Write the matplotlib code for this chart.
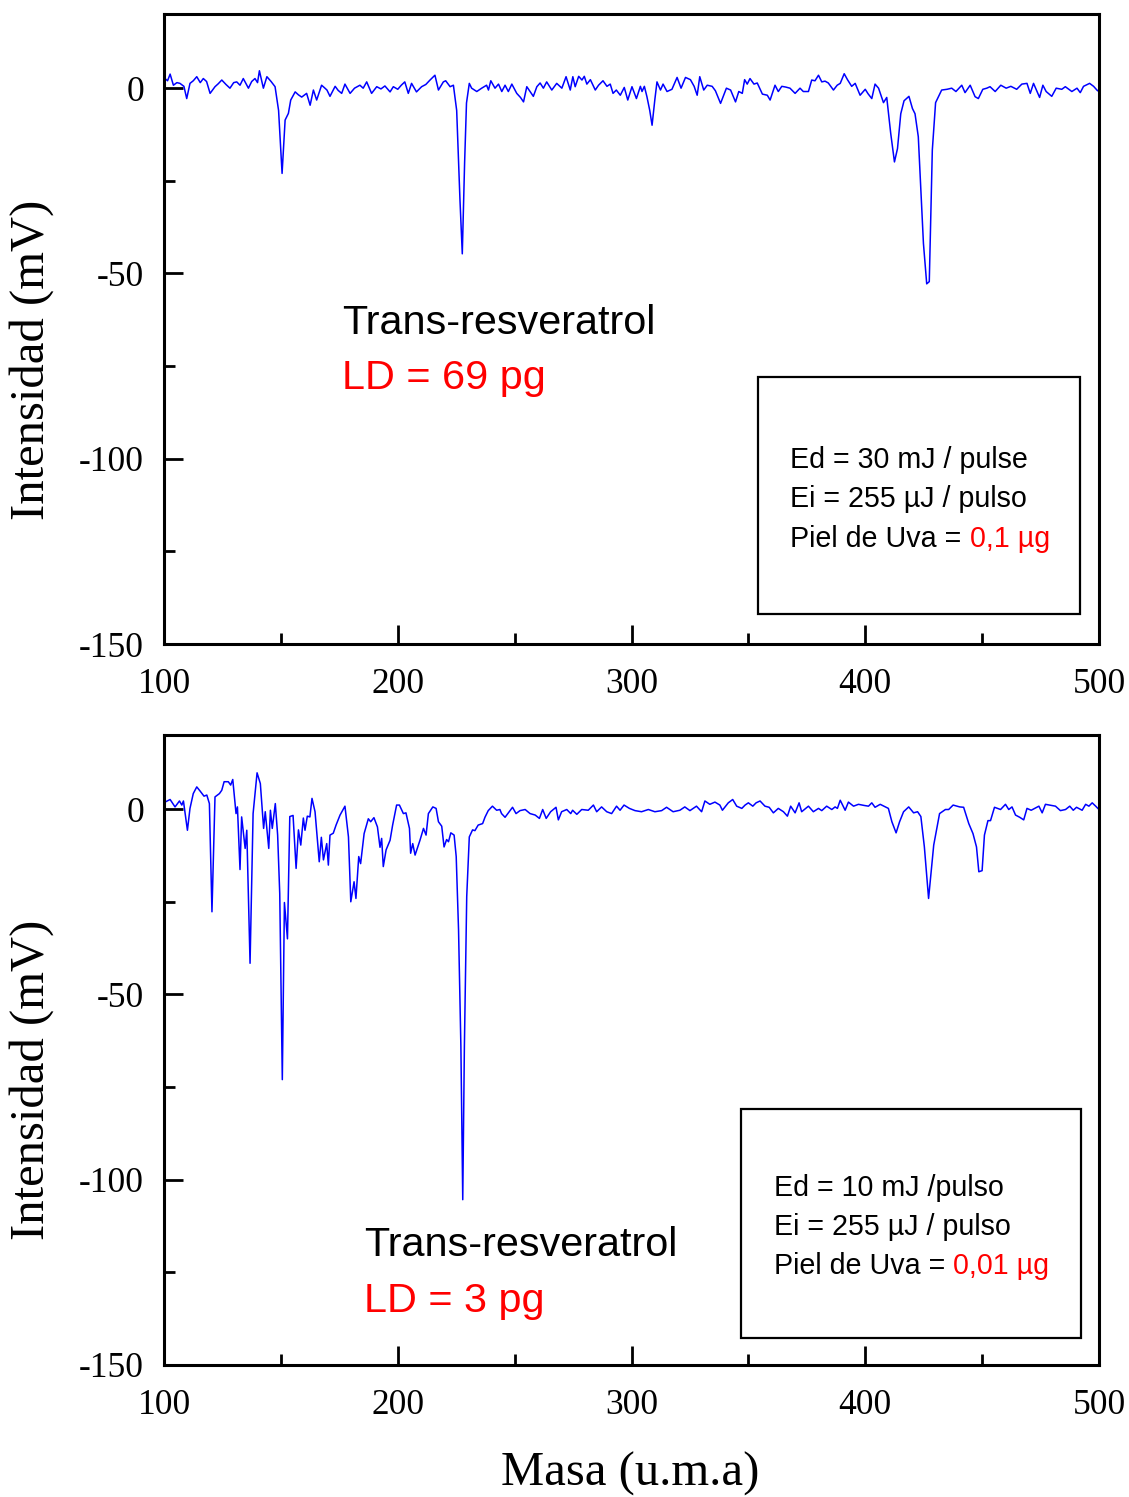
import matplotlib
matplotlib.use("Agg")
import matplotlib.pyplot as plt
from matplotlib.patches import Rectangle
from matplotlib.ticker import MultipleLocator

# Mass spectrum, 30 mJ desorption energy: (mass in u.m.a, intensity in mV)
top_trace = [
    (100.0, 1.5), (100.4, 2.6), (101.5, 2.0), (102.6, 3.8), (104.0, 0.8), (105.5, 1.5),
    (106.8, 1.3), (108.5, 0.5), (109.7, -2.8), (111.1, 1.3), (112.5, 2.0), (114.0, 3.1),
    (115.5, 1.5), (116.8, 2.6), (118.2, 1.8), (119.7, -1.4), (121.8, 0.4), (123.2, 1.2),
    (124.7, 2.2), (126.5, 1.0), (128.2, 0.0), (129.8, 1.5), (131.1, 1.7), (132.5, 0.8),
    (133.9, 2.6), (136.1, 0.0), (137.5, 1.8), (138.9, 2.6), (140.0, 1.5), (140.8, 4.7),
    (142.5, 0.0), (144.0, 3.1), (145.8, 1.8), (147.5, 0.4), (149.0, -6.0), (150.5, -23.0),
    (151.8, -8.6), (153.2, -6.8), (154.2, -3.2), (156.1, -1.0), (157.5, -1.8), (158.9, -2.4),
    (161.0, -1.4), (162.5, -4.6), (163.9, -0.5), (165.3, -3.2), (167.4, 0.8), (168.5, 0.2),
    (169.7, -0.5), (171.0, -2.2), (173.2, 0.5), (174.5, -0.6), (176.0, -1.4), (177.4, 1.1),
    (179.6, -1.4), (181.5, 0.0), (183.8, 0.8), (185.2, 0.0), (186.7, 1.7), (188.8, -1.4),
    (191.0, 0.4), (192.8, -0.2), (194.5, 0.6), (196.7, -1.0), (198.1, 0.4), (200.0, -0.3),
    (201.5, 0.8), (203.0, 1.7), (204.5, -1.4), (205.9, 1.3), (208.0, -1.0), (210.2, 0.4),
    (212.0, 1.0), (213.8, 2.2), (215.9, 3.5), (217.4, -0.5), (219.5, 1.7), (220.5, 2.0),
    (222.4, 0.4), (223.8, 0.8), (225.2, -6.0), (226.6, -30.0), (227.6, -44.7), (228.6, -20.0),
    (229.4, -4.0), (230.6, 1.3), (231.6, 0.0), (233.8, -0.9), (235.9, 0.0), (238.0, 0.8),
    (238.8, -0.5), (239.8, 2.0), (241.6, 0.0), (243.1, 1.1), (244.5, -0.9), (245.9, 0.8),
    (247.3, -0.9), (248.8, 1.1), (250.9, -1.4), (252.5, -2.5), (253.8, -3.7), (255.2, 0.4),
    (256.5, -0.8), (258.0, -2.2), (259.5, 0.4), (260.9, 1.4), (262.3, 0.0), (263.7, 1.7),
    (265.9, -0.5), (268.0, 1.3), (270.2, 0.0), (272.0, 3.1), (273.8, -0.5), (274.9, 3.1),
    (275.9, 0.4), (277.4, 3.2), (278.8, 2.2), (279.8, 3.2), (280.9, 1.1), (282.4, 2.3),
    (284.5, -0.5), (285.9, 0.8), (287.8, 2.0), (289.5, 0.5), (290.9, 1.1), (292.1, -1.4),
    (293.5, -0.5), (295.2, -1.9), (296.9, 0.2), (298.4, -3.2), (300.2, 0.4), (302.1, -2.8),
    (303.8, 0.5), (304.5, -0.9), (305.5, 0.5), (306.6, -2.3), (307.8, -6.0), (308.8, -10.0),
    (310.0, -3.0), (310.9, 1.7), (312.4, -0.5), (313.5, 1.1), (315.2, -0.9), (317.3, -0.3),
    (319.5, 2.9), (321.2, 0.0), (323.1, 2.9), (325.2, 2.3), (326.8, 0.5), (328.1, -1.9),
    (329.2, 3.1), (330.9, -0.5), (332.4, 0.8), (334.5, 0.5), (335.9, -0.7), (338.1, -4.1),
    (340.6, 0.0), (342.4, -0.5), (344.5, -3.7), (345.9, -0.9), (347.4, -1.4), (348.4, 2.3),
    (349.5, 1.1), (350.7, 2.6), (352.4, 1.1), (353.8, 1.4), (356.0, -1.6), (358.1, -1.9),
    (359.3, -3.2), (361.4, 0.8), (362.8, -0.9), (364.3, 0.5), (366.0, 0.3), (367.8, 0.0),
    (370.0, -1.4), (372.1, 0.0), (373.5, -0.9), (375.7, -0.9), (377.1, 2.2), (378.5, 2.0),
    (380.0, 3.5), (381.4, 1.7), (382.8, 1.9), (384.2, 1.4), (386.4, -0.5), (388.0, 0.8),
    (389.3, 1.3), (391.0, 3.9), (392.4, 2.3), (394.2, 0.5), (395.7, 1.3), (397.8, -1.9),
    (400.0, -0.3), (401.2, -1.5), (402.8, -2.8), (404.2, 1.1), (405.7, 0.0), (407.8, -3.9),
    (409.2, -2.5), (410.9, -12.2), (412.5, -19.9), (413.8, -16.3), (415.2, -6.9), (416.6, -3.4),
    (418.7, -2.2), (420.2, -5.5), (421.3, -6.9), (422.7, -13.1), (424.9, -41.9), (426.3, -52.8),
    (427.4, -52.2), (428.7, -16.7), (430.1, -3.9), (432.7, -0.5), (435.0, -0.3), (437.0, 0.0),
    (438.8, -0.9), (441.3, 0.8), (442.7, -1.2), (444.9, 0.8), (447.0, -2.3), (448.4, -2.8),
    (450.3, -0.3), (452.0, 0.0), (453.4, 0.4), (455.6, -0.9), (458.0, 0.8), (460.3, 0.0),
    (462.3, 0.5), (464.8, -0.3), (467.0, 1.1), (469.2, 1.3), (470.6, -1.4), (472.0, 1.3),
    (474.6, -2.5), (476.0, 0.8), (477.4, -0.9), (479.8, -2.2), (481.7, 0.0), (484.1, -0.3),
    (485.6, 0.4), (488.4, -0.9), (490.6, 0.0), (492.0, -1.2), (493.4, 0.5), (496.0, 1.3),
    (497.7, 0.5), (499.4, -0.7), (500.0, -0.5),
]

# Mass spectrum, 10 mJ desorption energy: (mass in u.m.a, intensity in mV)
bottom_trace = [
    (100.0, 1.5), (100.4, 1.9), (102.6, 2.6), (104.7, 0.6), (106.6, 2.2), (107.6, 1.1),
    (108.3, 2.2), (110.0, -5.7), (111.1, 0.2), (112.5, 4.2), (114.0, 6.0), (115.4, 4.9),
    (117.1, 3.5), (118.3, 3.8), (119.4, 1.5), (120.5, -27.7), (121.8, 3.3), (123.7, 4.2),
    (124.7, 5.1), (125.7, 7.4), (127.5, 7.4), (128.5, 6.5), (129.4, 8.0), (130.8, -1.2),
    (131.4, 0.6), (132.5, -16.3), (133.2, -2.1), (134.7, -10.6), (135.4, -5.7), (136.8, -41.6),
    (138.1, -1.2), (139.8, 9.8), (141.2, 6.9), (142.6, -5.2), (143.3, -0.7), (144.8, -10.6),
    (145.5, -0.3), (146.3, -5.2), (147.6, 1.5), (148.6, -7.0), (149.5, -22.8), (150.6, -73.0),
    (151.5, -25.2), (152.8, -35.0), (153.8, -2.0), (155.2, -1.7), (156.5, -16.0), (157.5, -5.6),
    (158.5, -9.7), (159.6, -2.4), (160.3, -5.7), (161.3, -1.9), (162.4, -2.1), (163.3, 2.9),
    (164.6, -0.7), (166.4, -14.2), (167.3, -7.6), (168.2, -13.7), (169.6, -9.3), (170.3, -15.1),
    (171.0, -7.0), (172.4, -6.5), (173.6, -4.3), (175.3, -1.6), (177.4, 0.8), (178.9, -7.5),
    (179.9, -25.0), (181.3, -19.6), (182.1, -24.1), (183.3, -12.8), (184.1, -14.7), (185.6, -6.6),
    (187.4, -2.6), (188.4, -3.4), (189.8, -2.3), (191.3, -4.8), (192.4, -10.3), (193.1, -7.9),
    (193.8, -15.5), (195.0, -11.0), (196.7, -8.4), (197.8, -4.3), (199.5, 1.1), (200.7, 1.1),
    (202.4, -1.2), (203.5, -1.0), (205.0, -5.2), (205.5, -11.9), (206.4, -9.3), (207.4, -12.4),
    (209.5, -8.4), (211.0, -5.2), (212.1, -7.0), (213.1, -1.2), (215.0, 0.6), (216.4, 0.2),
    (217.4, -3.4), (218.8, -4.6), (219.8, -10.2), (220.9, -8.2), (221.7, -8.8), (222.7, -6.4),
    (224.1, -7.0), (225.0, -12.8), (226.0, -32.6), (227.0, -64.0), (227.8, -105.4), (228.5, -64.0),
    (229.5, -23.6), (230.6, -7.5), (232.0, -5.6), (233.0, -5.8), (234.4, -4.3), (236.3, -3.9),
    (237.3, -2.2), (238.7, -0.4), (240.5, 0.8), (242.3, -0.3), (243.7, -0.1), (244.4, -1.2),
    (245.9, -2.2), (247.3, -1.0), (249.1, 0.5), (250.6, -1.2), (252.3, -0.4), (254.5, -0.1),
    (256.6, -1.2), (258.8, -1.6), (260.6, -2.5), (262.0, -0.1), (263.5, -2.5), (265.4, -0.7),
    (267.7, 0.5), (268.7, -2.9), (270.1, -0.7), (272.3, -0.1), (274.0, -1.2), (274.8, -0.3),
    (276.6, -1.4), (278.7, -0.1), (281.5, -0.3), (283.7, 1.1), (285.1, -0.7), (287.2, 0.6),
    (289.4, -0.7), (291.5, -1.2), (293.6, 0.8), (295.1, -0.3), (296.8, 1.1), (299.1, 0.2),
    (301.5, -0.4), (304.3, -0.7), (307.2, -0.1), (310.0, -0.7), (312.9, -0.4), (315.0, 0.5),
    (317.8, -0.7), (320.7, -0.3), (322.8, 0.6), (325.0, -0.4), (327.8, 0.8), (330.0, -0.7),
    (331.4, 2.2), (333.5, 1.3), (335.7, 1.9), (337.8, 1.1), (338.9, -0.3), (341.4, 1.7),
    (343.3, 2.6), (345.0, 0.8), (347.2, 0.2), (348.6, 1.1), (350.0, 1.7), (351.9, 0.8),
    (353.3, 1.7), (355.0, 2.2), (357.1, 0.8), (358.9, 0.5), (360.7, -1.0), (362.8, 0.2),
    (365.0, -0.7), (366.7, -1.9), (368.1, 0.8), (370.0, -1.0), (371.7, 1.7), (372.8, -0.7),
    (375.7, 0.8), (377.8, -0.7), (380.0, 0.2), (381.4, -0.4), (383.5, 0.8), (385.7, -0.1),
    (387.1, 0.6), (388.1, 0.2), (389.3, 2.4), (391.4, -0.3), (392.8, 1.9), (395.0, 0.8),
    (397.1, 1.3), (399.5, 1.0), (401.4, 0.8), (402.8, 1.7), (404.2, 0.5), (406.4, 1.3),
    (409.9, 0.2), (411.4, -3.4), (413.2, -6.4), (414.7, -3.4), (416.4, -0.7), (418.6, 0.6),
    (420.7, -1.0), (422.4, -0.7), (423.8, -2.0), (425.3, -10.2), (427.1, -24.1), (429.3, -9.7),
    (431.8, -1.2), (434.3, -0.1), (435.7, -0.1), (437.6, 1.1), (440.4, 0.6), (442.1, 0.5),
    (444.3, -3.9), (446.1, -6.6), (447.6, -10.2), (448.6, -16.9), (450.0, -16.6), (451.0, -7.0),
    (452.5, -3.1), (453.6, -3.1), (455.3, 0.5), (457.9, -0.1), (460.0, 1.3), (461.4, -0.1),
    (462.8, 0.6), (464.3, -1.6), (466.1, -2.2), (467.8, -2.9), (469.2, 0.2), (471.0, -0.3),
    (474.3, 0.8), (475.7, -1.0), (477.1, 1.3), (481.4, 0.8), (483.5, -0.4), (485.7, -0.1),
    (487.5, 0.8), (489.0, -0.3), (490.4, 0.5), (492.8, -0.3), (494.3, 1.3), (495.7, 0.8),
    (497.1, 1.7), (498.6, 0.8), (500.0, -0.1),
]

compound = "Trans-resveratrol"
detection_limits = ["LD = 69 pg", "LD = 3 pg"]
desorption_lines = ["Ed = 30 mJ / pulse", "Ed = 10 mJ /pulso"]
ionization_line = "Ei = 255 \u00b5J / pulso"
sample_amounts = ["0,1 \u00b5g", "0,01 \u00b5g"]
x_label = "Masa (u.m.a)"
y_label = "Intensidad (mV)"

plt.rcParams["font.family"] = ["Liberation Serif", "DejaVu Serif"]
plt.rcParams["axes.unicode_minus"] = False

SANS = ["Liberation Sans", "DejaVu Sans"]
RED = "#ff0000"
BLUE = "#0000ff"

fig = plt.figure(figsize=(11.29, 14.97), dpi=100)
left, right = 0.1453, 0.9734
ax_top = fig.add_axes([left, 0.5698, right - left, 0.9906 - 0.5698])
ax_bot = fig.add_axes([left, 0.0882, right - left, 0.5090 - 0.0882])

panels = [
    dict(ax=ax_top, trace=top_trace, name_xy=(0.190, 0.510), ld_xy=(0.190, 0.422),
         box=(0.635, 0.048, 0.345, 0.376), text_x=0.670, text_y=(0.292, 0.230, 0.167),
         ylabel_y=0.7595),
    dict(ax=ax_bot, trace=bottom_trace, name_xy=(0.214, 0.191), ld_xy=(0.214, 0.101),
         box=(0.617, 0.043, 0.364, 0.363), text_x=0.652, text_y=(0.281, 0.219, 0.157),
         ylabel_y=0.2786),
]

for i, p in enumerate(panels):
    ax = p["ax"]
    mass, intensity = zip(*p["trace"])
    ax.plot(mass, intensity, color=BLUE, lw=1.1)

    ax.set_xlim(100, 500)
    ax.set_ylim(-150, 20)
    ax.xaxis.set_major_locator(MultipleLocator(100))
    ax.xaxis.set_minor_locator(MultipleLocator(50))
    ax.yaxis.set_major_locator(MultipleLocator(50))
    ax.yaxis.set_minor_locator(MultipleLocator(25))
    ax.tick_params(which="both", direction="in", top=False, right=False, width=2.0)
    ax.tick_params(which="major", length=13.5, labelsize=25.5)
    ax.tick_params(axis="x", which="major", pad=17.5)
    ax.tick_params(axis="y", which="major", pad=14.5)
    ax.tick_params(which="minor", length=8)
    for s in ax.spines.values():
        s.set_linewidth(2.2)

    fig.text(0.0283, p["ylabel_y"], y_label, rotation=90, ha="center", va="center",
             fontsize=35)

    ax.text(*p["name_xy"], compound, transform=ax.transAxes, ha="left", va="center",
            fontsize=29.8, family=SANS, color="black")
    ax.text(*p["ld_xy"], detection_limits[i], transform=ax.transAxes, ha="left",
            va="center", fontsize=29.8, family=SANS, color=RED)

    bx, by, bw, bh = p["box"]
    ax.add_patch(Rectangle((bx, by), bw, bh, transform=ax.transAxes, fill=False,
                           edgecolor="black", lw=1.6, zorder=3))
    tx = p["text_x"]
    ty = p["text_y"]
    ax.text(tx, ty[0], desorption_lines[i], transform=ax.transAxes, ha="left",
            va="center", fontsize=20.6, family=SANS)
    ax.text(tx, ty[1], ionization_line, transform=ax.transAxes, ha="left",
            va="center", fontsize=20.6, family=SANS)
    t3 = ax.text(tx, ty[2], "Piel de Uva =", transform=ax.transAxes, ha="left",
                 va="center", fontsize=20.6, family=SANS)
    ax.annotate(" " + sample_amounts[i], xy=(1, 0.5), xycoords=t3, ha="left",
                va="center", fontsize=20.6, family=SANS, color=RED)

fig.text(0.558, 0.0155, x_label, ha="center", va="center", fontsize=35)

fig.savefig("out.png", dpi=100)
